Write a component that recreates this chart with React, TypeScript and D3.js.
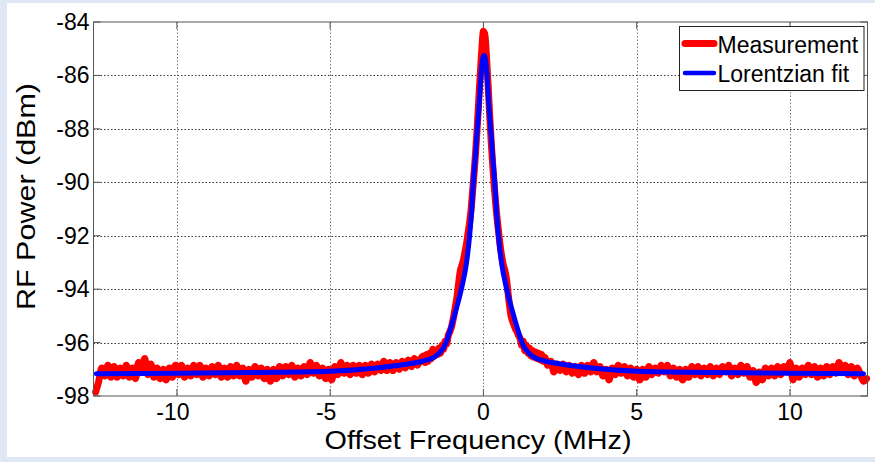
import React from "react";
import * as d3 from "d3";

// ---- data ----
const xTicks = [-10, -5, 0, 5, 10];
const yTicks = [-98, -96, -94, -92, -90, -88, -86, -84];
const xDomain = [-12.72, 12.53];
const yDomain = [-98, -84];

// Measurement (dBm), three sampled segments
const measLeftStart = -12.65;
const measLeftStep = 0.1;
const measLeft = [
  -97.85, -97.45, -96.95, -97.25, -96.85, -97.3, -96.9, -97.3, -96.95, -97.25,
  -96.85, -97.3, -96.95, -97.35, -96.75, -97.1, -96.6, -97.2, -96.8, -97.3,
  -96.95, -97.35, -97.0, -97.4, -96.95, -97.3, -96.85, -97.2, -96.85, -97.3,
  -96.95, -97.25, -96.85, -97.2, -96.85, -97.3, -96.95, -97.25, -96.9, -97.2,
  -96.85, -97.3, -96.95, -97.3, -96.9, -97.25, -96.85, -97.25, -96.95, -97.45,
  -97.0, -97.3, -96.9, -97.25, -96.95, -97.35, -97.0, -97.45, -97.0, -97.35,
  -96.9, -97.25, -96.9, -97.2, -96.85, -97.3, -96.95, -97.25, -96.9, -97.2,
  -96.75, -97.15, -96.85, -97.25, -96.95, -97.35, -97.0, -97.4, -96.9, -97.2,
  -96.75, -97.15, -96.85, -97.2, -96.85, -97.15, -96.85, -97.2, -96.85, -97.15,
  -96.8, -97.1, -96.8, -97.05, -96.7, -97.05, -96.75, -97.05, -96.75, -97.0,
  -96.7, -96.95, -96.65, -96.9, -96.6, -96.85, -96.6,
];
const measCenterStart = -1.95;
const measCenterStep = 0.05;
const measCenter = [
  -96.5, -96.75, -96.45, -96.7, -96.4, -96.6, -96.25, -96.5, -96.3, -96.45,
  -96.2, -96.4, -96.1, -96.25, -95.95, -96.05, -95.75, -95.6, -95.45, -95.2,
  -94.9, -94.55, -94.2, -93.7, -93.3, -93.1, -92.9, -92.6, -92.3, -91.9,
  -91.5, -91.0, -90.3, -89.6, -88.8, -87.9, -86.9, -85.9, -85.0, -84.35,
  -84.5, -85.3, -86.3, -87.4, -88.4, -89.3, -90.1, -90.8, -91.4, -91.9,
  -92.4, -92.8, -93.1, -93.3, -93.6, -94.1, -94.6, -95.0, -95.2, -95.35,
  -95.5, -95.6, -95.75, -95.85, -96.1, -95.95, -96.3, -96.1, -96.4, -96.2,
  -96.5, -96.3, -96.55, -96.35, -96.6, -96.4, -96.65, -96.45, -96.7,
];
const measRightStart = 2.0;
const measRightStep = 0.1;
const measRight = [
  -96.55, -96.85, -96.7, -97.1, -96.8, -97.05, -96.8, -97.1, -96.85, -97.15,
  -96.9, -97.2, -96.85, -97.15, -96.85, -97.1, -96.75, -97.1, -96.9, -97.25,
  -97.0, -97.4, -96.95, -97.2, -96.85, -97.15, -96.9, -97.25, -96.95, -97.3,
  -97.0, -97.4, -97.0, -97.3, -96.9, -97.2, -96.95, -97.15, -96.85, -97.1,
  -96.85, -97.25, -96.95, -97.3, -97.0, -97.4, -97.0, -97.3, -96.9, -97.2,
  -96.9, -97.25, -96.95, -97.2, -96.9, -97.25, -96.95, -97.2, -96.9, -97.1,
  -96.85, -97.25, -96.95, -97.2, -96.85, -97.15, -96.9, -97.3, -97.05, -97.5,
  -97.1, -97.4, -96.95, -97.25, -96.95, -97.25, -96.9, -97.2, -96.9, -97.1,
  -96.75, -97.4, -96.95, -97.3, -96.95, -97.2, -96.85, -97.2, -96.9, -97.3,
  -96.95, -97.25, -96.9, -97.2, -96.9, -97.15, -96.75, -97.1, -96.85, -97.2,
  -96.9, -97.25, -96.95, -97.2, -97.45, -97.35,
];

// Lorentzian fit (frequency MHz, power dBm)
const fitFreq = [
  -12.63, -10, -7.5, -5, -3.5, -2.6, -2.0, -1.55, -1.22, -1.05, -0.9, -0.72,
  -0.55, -0.45, -0.38, -0.33, -0.26, -0.2, -0.15, -0.1, -0.05, 0.02, 0.09,
  0.14, 0.19, 0.24, 0.3, 0.37, 0.42, 0.49, 0.59, 0.76, 0.94, 1.09, 1.26,
  1.59, 2.04, 2.64, 3.54, 5.04, 7.5, 10, 12.4,
];
const fitPower = [
  -97.17, -97.15, -97.12, -97.07, -96.95, -96.82, -96.7, -96.5, -96.0, -95.4,
  -94.8, -94.0, -93.0, -92.0, -91.0, -90.0, -89.0, -88.0, -87.3, -86.4,
  -85.6, -85.25, -85.6, -86.4, -87.3, -88.0, -89.0, -90.0, -91.0, -92.0,
  -93.0, -94.0, -94.8, -95.4, -96.0, -96.5, -96.7, -96.82, -96.95, -97.07,
  -97.12, -97.15, -97.17,
];

const legendLabels = ["Measurement", "Lorentzian fit"];
const seriesColors = ["#ff0000", "#0000ff"];

type P = [number, number];

function segment(start: number, step: number, vals: number[]): P[] {
  return vals.map((v, i) => [start + i * step, v] as P);
}

export default function App() {
  const W = 875;
  const H = 462;
  const left = 93.5;
  const right = 867.5;
  const top = 22;
  const bottom = 396;
  const x = d3.scaleLinear().domain(xDomain).range([left, right]);
  const y = d3.scaleLinear().domain(yDomain).range([bottom, top]);

  const meas: P[] = [
    ...segment(measLeftStart, measLeftStep, measLeft),
    ...segment(measCenterStart, measCenterStep, measCenter),
    ...segment(measRightStart, measRightStep, measRight),
  ];
  const fit: P[] = fitFreq.map((f, i) => [f, fitPower[i]] as P);

  const line = d3
    .line<P>()
    .x((d) => x(d[0]))
    .y((d) => y(d[1]))
    .curve(d3.curveMonotoneX);

  const font = "'Liberation Sans', Arial, sans-serif";
  const tickLen = 7;

  return (
    <svg
      width={W}
      height={H}
      style={{ position: "absolute", left: 0, top: 0, display: "block" }}
      fontFamily={font}
    >
      <rect x={0} y={0} width={W} height={H} fill="#e0e7f4" />
      <rect x={7} y={3} width={W - 7} height={454} fill="#ffffff" />

      {/* grid */}
      {yTicks
        .filter((t) => t !== yDomain[0] && t !== yDomain[1])
        .map((t) => (
          <line
            key={"gy" + t}
            x1={left}
            x2={right}
            y1={Math.round(y(t)) + 0.5}
            y2={Math.round(y(t)) + 0.5}
            stroke="#333"
            strokeWidth={1}
            strokeDasharray="1.5,2"
          />
        ))}
      {xTicks.map((t) => (
        <line
          key={"gx" + t}
          x1={Math.round(x(t)) + 0.5}
          x2={Math.round(x(t)) + 0.5}
          y1={top}
          y2={bottom}
          stroke="#777"
          strokeWidth={1}
          strokeDasharray="1.5,2"
        />
      ))}

      {/* ticks */}
      {xTicks.map((t) => (
        <g key={"tx" + t} stroke="#555" strokeWidth={1}>
          <line x1={x(t)} x2={x(t)} y1={bottom} y2={bottom - tickLen} />
          <line x1={x(t)} x2={x(t)} y1={top} y2={top + tickLen} />
        </g>
      ))}
      {yTicks.map((t) => (
        <g key={"ty" + t} stroke="#555" strokeWidth={1}>
          <line x1={left} x2={left + tickLen} y1={y(t)} y2={y(t)} />
          <line x1={right} x2={right - tickLen} y1={y(t)} y2={y(t)} />
        </g>
      ))}

      {/* data */}
      <path
        d={line(meas) || ""}
        fill="none"
        stroke={seriesColors[0]}
        strokeWidth={7}
        strokeLinejoin="round"
        strokeLinecap="round"
      />
      <path
        d={line(fit) || ""}
        fill="none"
        stroke={seriesColors[1]}
        strokeWidth={5}
        strokeLinejoin="round"
        strokeLinecap="round"
      />

      {/* box */}
      <rect
        x={left}
        y={top}
        width={right - left}
        height={bottom - top}
        fill="none"
        stroke="#555"
        strokeWidth={1}
      />

      {/* tick labels */}
      {xTicks.map((t) => (
        <text
          key={"lx" + t}
          x={x(t) + (t < 0 ? -4 : 0)}
          y={420}
          textAnchor="middle"
          fontSize={23}
          fill="#000"
        >
          {String(t)}
        </text>
      ))}
      {yTicks.map((t) => (
        <text
          key={"ly" + t}
          x={89.5}
          y={y(t) + 8}
          textAnchor="end"
          fontSize={23}
          fill="#000"
        >
          {String(t)}
        </text>
      ))}

      {/* axis labels */}
      <text
        x={324.5}
        y={448.5}
        fontSize={26}
        fill="#000"
        textLength={307}
        lengthAdjust="spacingAndGlyphs"
      >
        Offset Frequency (MHz)
      </text>
      <text
        transform={`translate(35,310) rotate(-90)`}
        fontSize={26}
        fill="#000"
        textLength={227}
        lengthAdjust="spacingAndGlyphs"
      >
        RF Power (dBm)
      </text>

      {/* legend */}
      <rect x={679.5} y={26.5} width={184.5} height={64} fill="#fff" stroke="#222" strokeWidth={1} />
      {legendLabels.map((lab, i) => (
        <g key={lab}>
          <line
            x1={685}
            x2={714}
            y1={43.5 + i * 29.5}
            y2={43.5 + i * 29.5}
            stroke={seriesColors[i]}
            strokeWidth={i === 0 ? 7 : 4.5}
            strokeLinecap="round"
          />
          <text x={717.5} y={52.5 + i * 29.7} fontSize={23} fill="#000">
            {lab}
          </text>
        </g>
      ))}
    </svg>
  );
}
